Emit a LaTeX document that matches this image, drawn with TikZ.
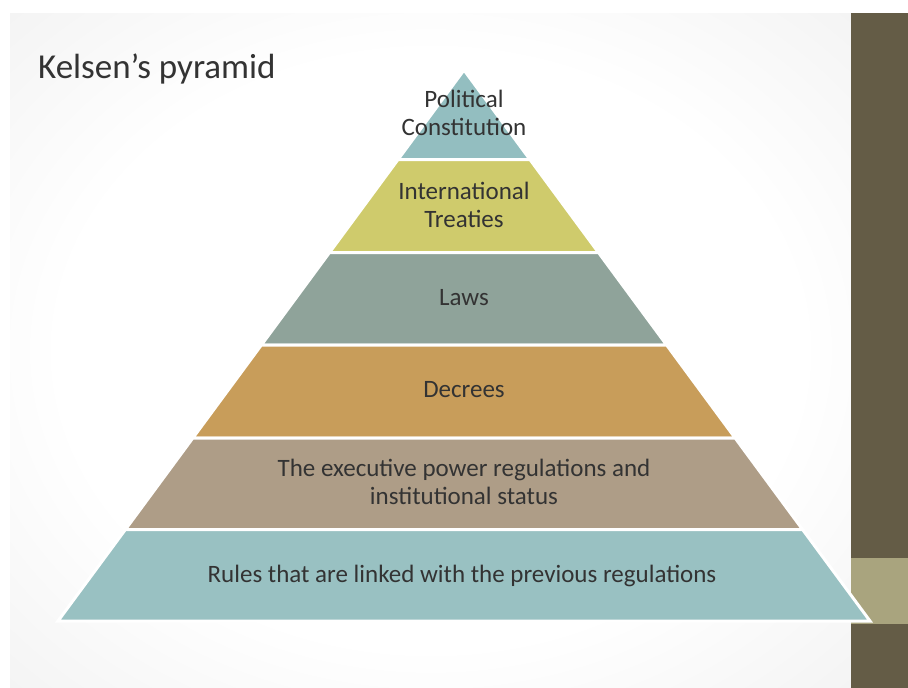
\documentclass[tikz,border=0pt]{standalone}
\usepackage{fontspec}
\setmainfont{Carlito}

\definecolor{apexcol}{HTML}{93BEC0}
\definecolor{treatycol}{HTML}{CFCB6C}
\definecolor{lawcol}{HTML}{8FA39A}
\definecolor{decreecol}{HTML}{C89D5A}
\definecolor{execcol}{HTML}{AE9D87}
\definecolor{rulecol}{HTML}{99C1C2}
\definecolor{barcol}{HTML}{645C46}
\definecolor{bandcol}{HTML}{A9A47E}
\definecolor{inkcol}{HTML}{333333}

\pgfdeclareradialshading{slidebg}{\pgfpoint{0bp}{0bp}}{color(0bp)=(white); color(22bp)=(white); color(50bp)=(black!9); color(72bp)=(black!13)}

\tikzset{
	tier/.style = {draw=white, line width=3pt},
	tiertext/.style = {text=inkcol, font=\fontsize{25}{28}\selectfont, align=center, inner sep=0pt}
}

\begin{document}
\begin{tikzpicture}[x=1pt, y=-1pt]
	\useasboundingbox (0,0) rectangle (908,688);
	\fill[white] (0,0) rectangle (908,688);
	\shade[shading=slidebg] (10,13) rectangle (851,688);
	% side bar
	\fill[barcol] (851,13) rectangle (908,688);
	\fill[bandcol] (851,558) rectangle (908,624);
	% tiers, top to bottom
	\filldraw[tier, fill=apexcol] (464,70) -- (529.95,159.5) -- (398.05,159.5) -- cycle;
	\filldraw[tier, fill=treatycol] (398.05,159.5) -- (529.95,159.5) -- (598.47,252.5) -- (329.53,252.5) -- cycle;
	\filldraw[tier, fill=lawcol] (329.53,252.5) -- (598.47,252.5) -- (666.63,345) -- (261.37,345) -- cycle;
	\filldraw[tier, fill=decreecol] (261.37,345) -- (666.63,345) -- (735.16,438) -- (192.84,438) -- cycle;
	\filldraw[tier, fill=execcol] (192.84,438) -- (735.16,438) -- (802.58,529.5) -- (125.42,529.5) -- cycle;
	\filldraw[tier, fill=rulecol] (125.42,529.5) -- (802.58,529.5) -- (870,621) -- (58,621) -- cycle;
	% labels
	\node (title) [anchor=base west, text=inkcol, font=\fontsize{35}{40}\selectfont, inner sep=0pt] at (38,78) {Kelsen’s pyramid};
	\node (constitution) [tiertext] at (464,113) {Political\\Constitution};
	\node (treaties) [tiertext] at (464,205) {International\\Treaties};
	\node (laws) [tiertext] at (464,298) {Laws};
	\node (decrees) [tiertext] at (464,390) {Decrees};
	\node (executive) [tiertext] at (464,482) {The executive power regulations and\\institutional status};
	\node (rules) [tiertext] at (462,576) {Rules that are linked with the previous regulations};
\end{tikzpicture}
\end{document}
